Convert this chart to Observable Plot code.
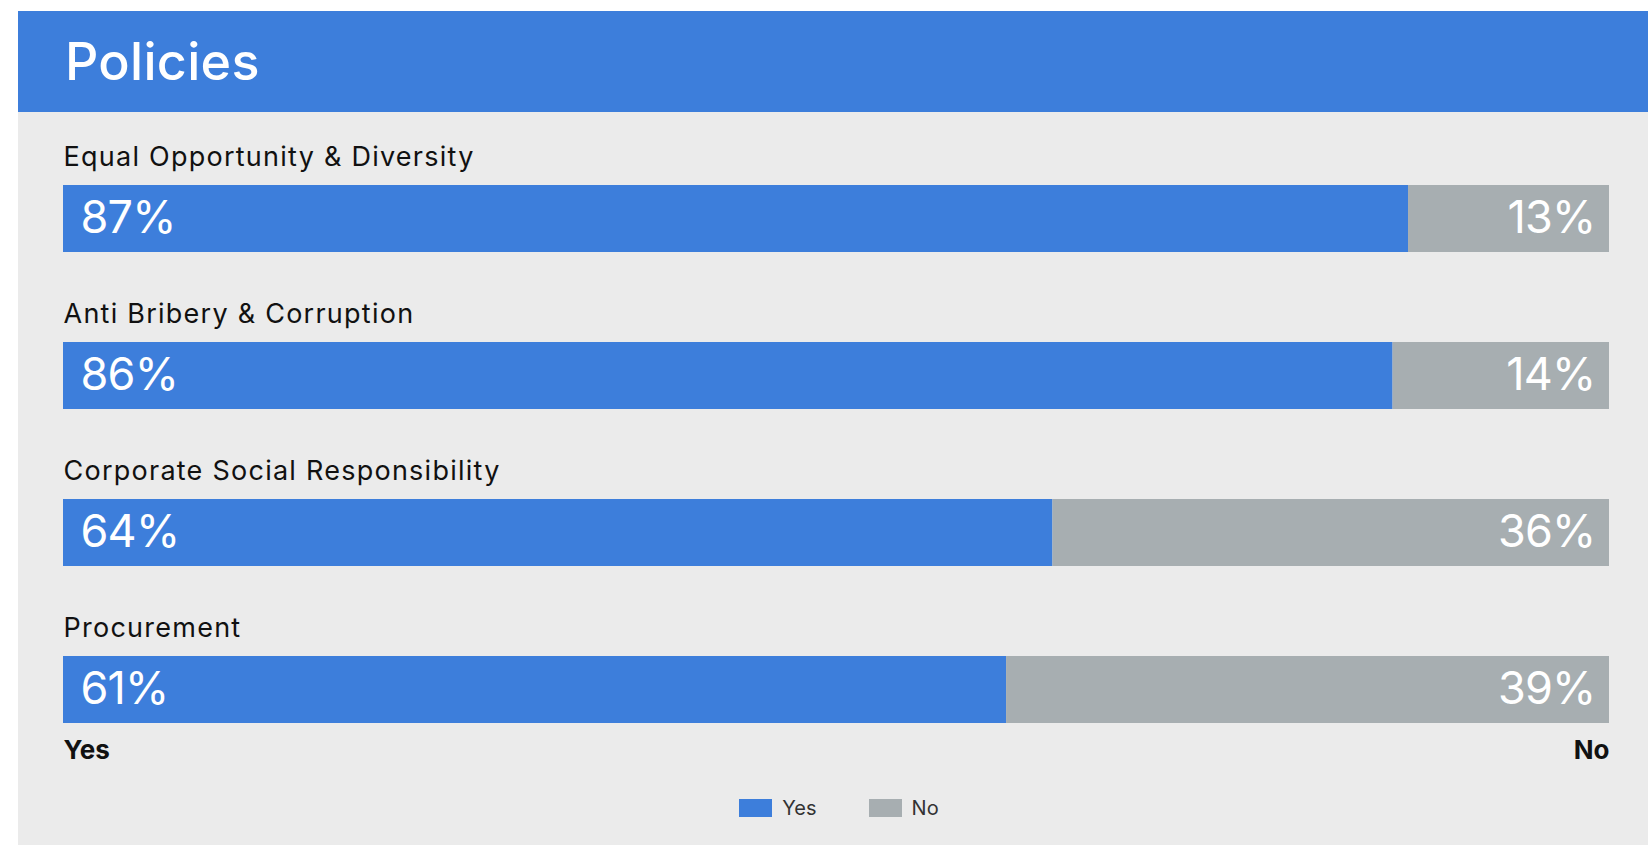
<!DOCTYPE html>
<html>
<head>
<meta charset="utf-8">
<script src="https://cdn.jsdelivr.net/npm/d3@7"></script>
<script src="https://cdn.jsdelivr.net/npm/@observablehq/plot@0.6"></script>
<style>
  html, body { margin: 0; padding: 0; background: #ffffff; }
  #panel { position: absolute; left: 18px; top: 11px; width: 1630px; height: 834px; background: #ebebeb; overflow: hidden; }
  #header { position: absolute; left: 0; top: 0; width: 1630px; height: 101px; background: #3d7edb; }
  #title { position: absolute; left: 47px; top: 25px; margin: 0; font: 500 52px "Inter", sans-serif; line-height: 52px; color: #ffffff; letter-spacing: 0.3px; }
  #chart { position: absolute; left: 0; top: 101px; }
  #legend { position: absolute; left: 0; top: 780px; width: 1630px; }
  div.lg-swatches { justify-content: center; padding-left: 12px; }
  div.lg-swatches-wrap span.lg-swatch { margin-right: 0; }
  div.lg-swatches-wrap span.lg-swatch + span.lg-swatch { margin-left: 52px; }
  .cat-label text { letter-spacing: 1.25px; }
  .val-label text { letter-spacing: -0.8px; }
</style>
</head>
<body>
<div id="panel">
  <div id="header"><h1 id="title">Policies</h1></div>
  <div id="chart"></div>
  <div id="legend"></div>
</div>
<script>
const categories = [
  "Equal Opportunity & Diversity",
  "Anti Bribery & Corruption",
  "Corporate Social Responsibility",
  "Procurement"
];
const yesValues = [87, 86, 64, 61];
const noValues = [13, 14, 36, 39];
const seriesNames = ["Yes", "No"];
const seriesColors = ["#3d7edb", "#a7aeb1"];
const axisEndLabels = ["Yes", "No"];

const rows = categories.flatMap((c, i) => [
  {category: c, answer: seriesNames[0], value: yesValues[i]},
  {category: c, answer: seriesNames[1], value: noValues[i]}
]);
const yesRows = rows.filter(d => d.answer === seriesNames[0]);
const noRows = rows.filter(d => d.answer === seriesNames[1]);

const font = "Inter, sans-serif";

const chart = Plot.plot({
  width: 1630,
  height: 660,
  marginLeft: 45,
  marginRight: 39,
  marginTop: 0,
  marginBottom: 0,
  style: {background: "transparent", fontFamily: font, overflow: "visible"},
  x: {domain: [0, 100], axis: null},
  y: {domain: categories, range: [73, 612], paddingInner: 0.573, paddingOuter: 0, axis: null},
  color: {domain: seriesNames, range: seriesColors},
  marks: [
    Plot.barX(rows, Plot.stackX({x: "value", y: "category", fill: "answer", order: seriesNames})),
    Plot.text(categories, {
      x: () => 0, y: d => d, text: d => d,
      textAnchor: "start", lineAnchor: "bottom", dy: -53.5,
      fontSize: 27, fill: "#111111", fontWeight: 400, className: "cat-label"
    }),
    Plot.text(yesRows, {
      x: () => 0, y: "category", text: d => d.value + "%",
      textAnchor: "start", dx: 17, fontSize: 45, fill: "#ffffff", fontWeight: 400, className: "val-label"
    }),
    Plot.text(noRows, {
      x: () => 100, y: "category", text: d => d.value + "%",
      textAnchor: "end", dx: -14, fontSize: 45, fill: "#ffffff", fontWeight: 400, className: "val-label"
    }),
    Plot.text([axisEndLabels[0]], {
      x: () => 0, frameAnchor: "bottom", lineAnchor: "bottom", dy: -14,
      text: d => d, textAnchor: "start", fontSize: 26, fontWeight: 700, fill: "#111111"
    }),
    Plot.text([axisEndLabels[1]], {
      x: () => 100, frameAnchor: "bottom", lineAnchor: "bottom", dy: -14,
      text: d => d, textAnchor: "end", fontSize: 26, fontWeight: 700, fill: "#111111"
    })
  ]
});
document.getElementById("chart").appendChild(chart);

const legend = Plot.legend({
  color: {domain: seriesNames, range: seriesColors},
  swatchWidth: 33,
  swatchHeight: 18,
  className: "lg",
  style: {fontSize: "20px", fontFamily: font, color: "#333333", background: "transparent"}
});
document.getElementById("legend").appendChild(legend);
</script>
</body>
</html>
